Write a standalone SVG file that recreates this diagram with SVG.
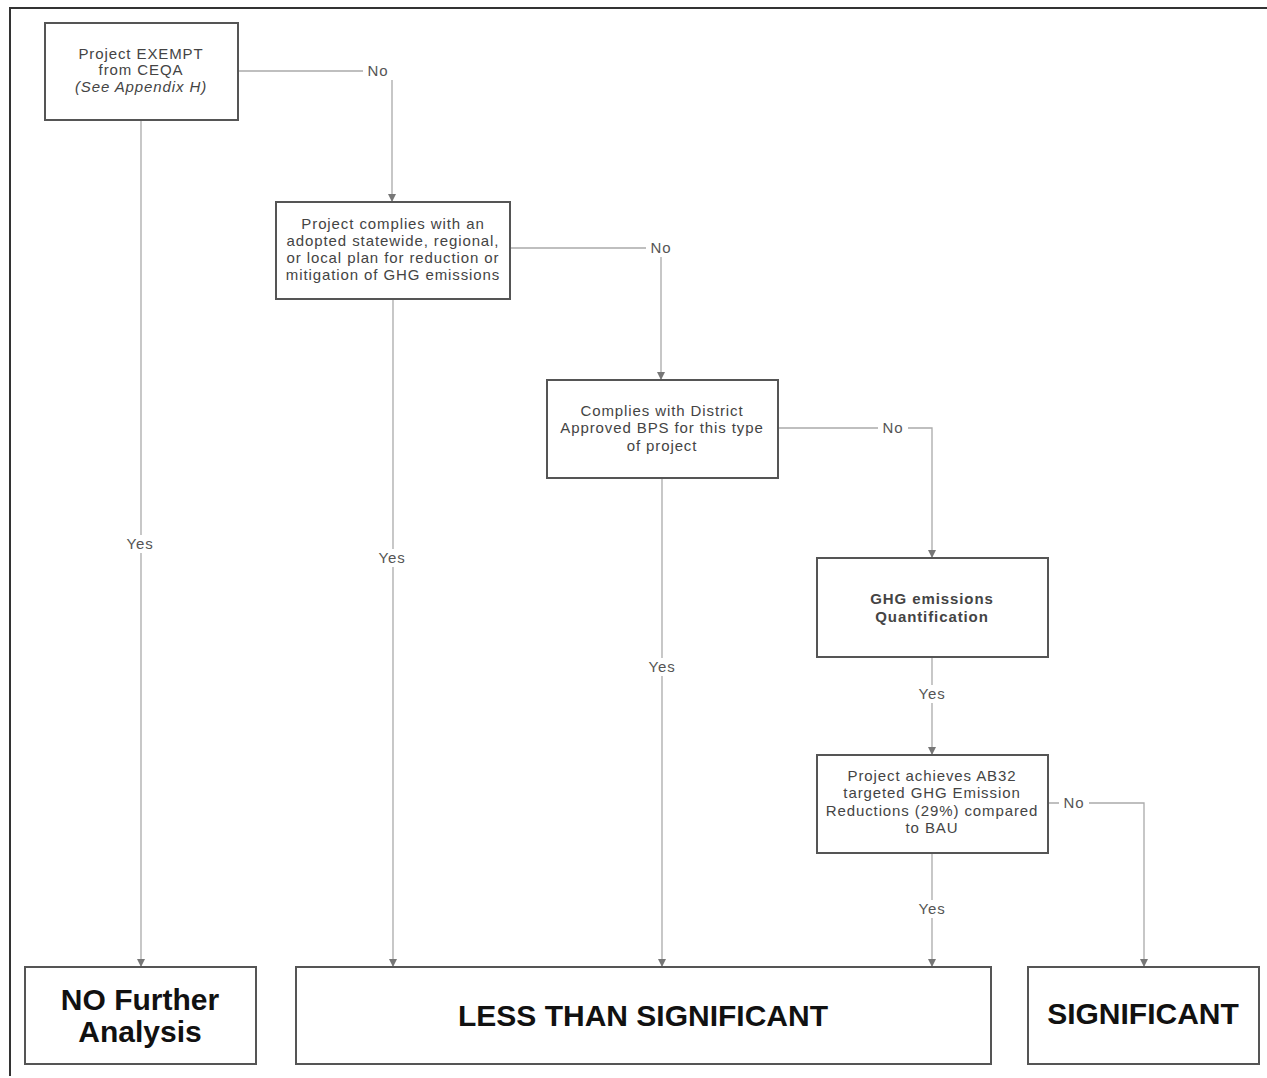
<svg xmlns="http://www.w3.org/2000/svg" width="1267" height="1078" viewBox="0 0 1267 1078">
<defs>
<marker id="arr" viewBox="0 0 8 8" refX="7" refY="4" markerWidth="8" markerHeight="8" markerUnits="userSpaceOnUse" orient="auto">
<path d="M0,0 L8,4 L0,8 z" fill="#777"/>
</marker>
</defs>
<style>
.box{fill:#fff;stroke:#555;stroke-width:2}
.t{font-family:"Liberation Sans",Arial,sans-serif;font-size:15px;letter-spacing:0.9px;fill:#444;text-anchor:middle}
.tb{font-family:"Liberation Sans",Arial,sans-serif;font-size:15px;letter-spacing:0.9px;font-weight:bold;fill:#444;text-anchor:middle}
.big{font-family:"Liberation Sans",Arial,sans-serif;font-size:30px;font-weight:bold;fill:#111;text-anchor:middle}
.ln{fill:none;stroke:#aaa;stroke-width:1.3}
.lbl{font-family:"Liberation Sans",Arial,sans-serif;font-size:15px;letter-spacing:0.9px;fill:#555;text-anchor:middle}
.lb{fill:#fff}
</style>
<rect width="1267" height="1078" fill="#fff"/>
<path d="M10,1076 L10,8 L1267,8" fill="none" stroke="#333" stroke-width="2"/>

<g id="connectors">
<path class="ln" d="M238,71 H392 V201" marker-end="url(#arr)"/>
<path class="ln" d="M141,120 V966" marker-end="url(#arr)"/>
<path class="ln" d="M510,248 H661 V379" marker-end="url(#arr)"/>
<path class="ln" d="M393,299 V966" marker-end="url(#arr)"/>
<path class="ln" d="M778,428 H932 V557" marker-end="url(#arr)"/>
<path class="ln" d="M662,478 V966" marker-end="url(#arr)"/>
<path class="ln" d="M932,657 V754" marker-end="url(#arr)"/>
<path class="ln" d="M1048,803 H1144 V966" marker-end="url(#arr)"/>
<path class="ln" d="M932,853 V966" marker-end="url(#arr)"/>
<rect class="lb" x="363" y="62" width="30" height="18"/><text class="lbl" x="378" y="76">No</text>
<rect class="lb" x="123" y="535" width="34" height="18"/><text class="lbl" x="140" y="549">Yes</text>
<rect class="lb" x="646" y="239" width="30" height="18"/><text class="lbl" x="661" y="253">No</text>
<rect class="lb" x="375" y="549" width="34" height="18"/><text class="lbl" x="392" y="563">Yes</text>
<rect class="lb" x="878" y="419" width="30" height="18"/><text class="lbl" x="893" y="433">No</text>
<rect class="lb" x="645" y="658" width="34" height="18"/><text class="lbl" x="662" y="672">Yes</text>
<rect class="lb" x="915" y="685" width="34" height="18"/><text class="lbl" x="932" y="699">Yes</text>
<rect class="lb" x="1059" y="794" width="30" height="18"/><text class="lbl" x="1074" y="808">No</text>
<rect class="lb" x="915" y="900" width="34" height="18"/><text class="lbl" x="932" y="914">Yes</text>
</g>

<g id="exempt">
<rect class="box" x="45" y="23" width="193" height="97"/>
<text class="t" x="141" y="59">Project EXEMPT</text>
<text class="t" x="141" y="75">from CEQA</text>
<text class="t" x="141" y="92" font-style="italic">(See Appendix H)</text>
</g>

<g id="plan">
<rect class="box" x="276" y="202" width="234" height="97"/>
<text class="t" x="393" y="229">Project complies with an</text>
<text class="t" x="393" y="246">adopted statewide, regional,</text>
<text class="t" x="393" y="263">or local plan for reduction or</text>
<text class="t" x="393" y="280">mitigation of GHG emissions</text>
</g>

<g id="bps">
<rect class="box" x="547" y="380" width="231" height="98"/>
<text class="t" x="662" y="416">Complies with District</text>
<text class="t" x="662" y="433">Approved BPS for this type</text>
<text class="t" x="662" y="451">of project</text>
</g>

<g id="quant">
<rect class="box" x="817" y="558" width="231" height="99"/>
<text class="tb" x="932" y="604">GHG emissions</text>
<text class="tb" x="932" y="622">Quantification</text>
</g>

<g id="ab32">
<rect class="box" x="817" y="755" width="231" height="98"/>
<text class="t" x="932" y="781">Project achieves AB32</text>
<text class="t" x="932" y="798">targeted GHG Emission</text>
<text class="t" x="932" y="816">Reductions (29%) compared</text>
<text class="t" x="932" y="833">to BAU</text>
</g>

<g id="nofurther">
<rect class="box" x="25" y="967" width="231" height="97"/>
<text class="big" x="140" y="1010">NO Further</text>
<text class="big" x="140" y="1042">Analysis</text>
</g>

<g id="lessthan">
<rect class="box" x="296" y="967" width="695" height="97"/>
<text class="big" x="643" y="1026">LESS THAN SIGNIFICANT</text>
</g>

<g id="significant">
<rect class="box" x="1028" y="967" width="231" height="97"/>
<text class="big" x="1143" y="1024">SIGNIFICANT</text>
</g>
</svg>
